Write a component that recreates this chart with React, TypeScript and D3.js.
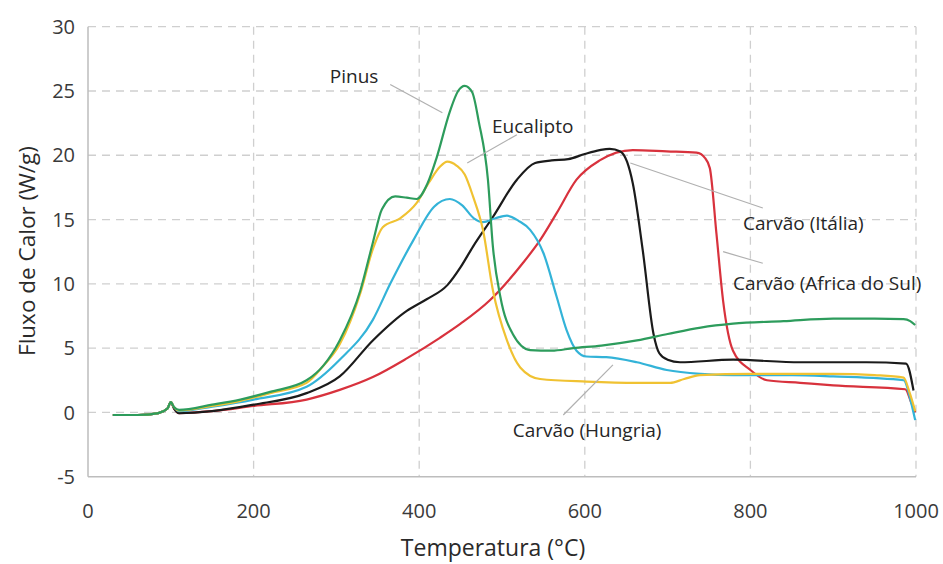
import { useEffect, useRef } from 'react';
import * as d3 from 'd3';

type Pt = [number, number];

const xTicks = [0, 200, 400, 600, 800, 1000];
const yTicks = [-5, 0, 5, 10, 15, 20, 25, 30];

// temperature (°C), heat flow (W/g)
const pinus: Pt[] = [
  [30, -0.2], [60, -0.2], [85, -0.05], [96, 0.3], [100, 0.8], [104, 0.4], [110, 0.2],
  [150, 0.6], [184, 1.0], [220, 1.6], [264, 2.5], [285, 3.7], [304, 5.6], [329, 9.5],
  [344, 13.2], [355, 15.8], [371, 16.8], [385, 16.7], [397, 16.6], [410, 17.8],
  [421, 19.8], [437, 23.4], [447, 25.0], [455, 25.4], [464, 24.9], [472, 22.6],
  [483, 18.1], [489, 12.9], [498, 9.0], [513, 6.1], [534, 4.85], [560, 4.8],
  [586, 5.0], [620, 5.2], [663, 5.6], [700, 6.1], [740, 6.6], [779, 6.9], [840, 7.1],
  [900, 7.3], [950, 7.3], [985, 7.25], [993, 7.1], [999, 6.8],
];

const eucalipto: Pt[] = [
  [30, -0.2], [60, -0.2], [85, -0.05], [96, 0.3], [100, 0.8], [104, 0.4], [110, 0.15],
  [150, 0.5], [184, 0.9], [220, 1.5], [264, 2.3], [284, 3.6], [304, 5.3], [329, 9.3],
  [344, 12.7], [356, 14.4], [377, 15.1], [397, 16.3], [412, 17.9], [425, 19.1],
  [434, 19.5], [445, 19.2], [455, 18.5], [465, 16.8], [477, 14.2], [489, 9.5],
  [506, 5.6], [522, 3.5], [546, 2.6], [602, 2.4], [663, 2.3], [703, 2.3], [720, 2.6],
  [739, 2.9], [800, 3.0], [900, 3.0], [950, 2.9], [985, 2.7], [992, 1.6], [999, 0.1],
];

const hungria: Pt[] = [
  [30, -0.2], [60, -0.2], [85, -0.05], [96, 0.3], [100, 0.8], [104, 0.4], [110, 0.1],
  [150, 0.45], [200, 1.0], [264, 2.0], [304, 4.1], [344, 7.2], [365, 10.0],
  [393, 13.4], [418, 16.0], [437, 16.6], [452, 16.1], [466, 15.1], [477, 14.8],
  [492, 15.1], [506, 15.3], [520, 14.9], [534, 14.2], [550, 12.4], [566, 9.0],
  [578, 6.4], [590, 4.8], [602, 4.35], [626, 4.3], [663, 3.9], [699, 3.3], [740, 3.0],
  [779, 2.9], [850, 2.9], [900, 2.8], [985, 2.5], [994, 0.8], [999, -0.6],
];

const italia: Pt[] = [
  [30, -0.2], [60, -0.2], [85, -0.05], [96, 0.3], [100, 0.8], [104, 0.3], [110, -0.05],
  [150, 0.1], [200, 0.6], [264, 1.5], [304, 2.8], [344, 5.6], [385, 7.9], [409, 8.8],
  [434, 9.9], [450, 11.3], [465, 12.9], [489, 15.2], [518, 18.1], [540, 19.4],
  [560, 19.6], [580, 19.7], [600, 20.1], [618, 20.4], [630, 20.5], [643, 20.3],
  [651, 19.5], [658, 17.8], [670, 12.6], [683, 6.1], [690, 4.6], [700, 4.1],
  [715, 3.9], [779, 4.1], [860, 3.9], [940, 3.9], [988, 3.8], [997, 1.7],
];

const africa: Pt[] = [
  [30, -0.2], [60, -0.2], [85, -0.05], [96, 0.3], [100, 0.8], [104, 0.3], [110, -0.05],
  [150, 0.1], [200, 0.5], [264, 1.0], [304, 1.75], [344, 2.75], [385, 4.2], [425, 5.8],
  [450, 6.9], [485, 8.7], [525, 11.6], [546, 13.4], [566, 15.5], [590, 18.1],
  [618, 19.6], [658, 20.4], [699, 20.3], [735, 20.2], [745, 19.8], [751, 19.0],
  [759, 13.9], [767, 8.7], [779, 4.8], [800, 3.3], [820, 2.5], [860, 2.3], [900, 2.1],
  [987, 1.8], [994, 0.8], [999, 0.0],
];

const seriesList = [
  { name: 'Carvão (Africa do Sul)', color: '#d8323d', data: africa },
  { name: 'Carvão (Itália)', color: '#1b1b1b', data: italia },
  { name: 'Carvão (Hungria)', color: '#33b3d8', data: hungria },
  { name: 'Eucalipto', color: '#f0c232', data: eucalipto },
  { name: 'Pinus', color: '#2d9c5c', data: pinus },
];

// label anchor and leader endpoints, in data units
const annotations = [
  { text: 'Pinus', at: [292, 25.6], from: [365, 25.5], to: [428, 23.3] },
  { text: 'Eucalipto', at: [488, 21.7], from: [518, 21.6], to: [458, 19.4] },
  { text: 'Carvão (Itália)', at: [791, 14.2], from: [655, 19.4], to: [815, 15.9] },
  { text: 'Carvão (Africa do Sul)', at: [779, 9.5], from: [767, 12.5], to: [815, 11.6] },
  { text: 'Carvão (Hungria)', at: [513, -1.9], from: [574, -0.2], to: [634, 3.7] },
];

const W = 943;
const H = 564;
const margin = { top: 26.7, right: 27, bottom: 87.3, left: 88 };
const font = '"Open Sans", sans-serif';

export default function App() {
  const ref = useRef<SVGSVGElement | null>(null);

  useEffect(() => {
    if (!ref.current) return;
    const root = d3.select(ref.current);
    root.selectAll('*').remove();

    const iw = W - margin.left - margin.right;
    const ih = H - margin.top - margin.bottom;

    const x = d3.scaleLinear().domain([0, 1000]).range([0, iw]);
    const y = d3.scaleLinear().domain([-5, 30]).range([ih, 0]);

    const g = root.append('g').attr('transform', `translate(${margin.left},${margin.top})`);

    // grid
    g.append('g')
      .selectAll('line')
      .data(yTicks.filter((t) => t > -5))
      .join('line')
      .attr('x1', 0)
      .attr('x2', iw)
      .attr('y1', (d) => y(d))
      .attr('y2', (d) => y(d))
      .attr('stroke', '#cfcfcf')
      .attr('stroke-width', 1.3)
      .attr('stroke-dasharray', '8,6');

    g.append('g')
      .selectAll('line')
      .data(xTicks.filter((t) => t > 0))
      .join('line')
      .attr('x1', (d) => x(d))
      .attr('x2', (d) => x(d))
      .attr('y1', 0)
      .attr('y2', ih)
      .attr('stroke', '#cfcfcf')
      .attr('stroke-width', 1.3)
      .attr('stroke-dasharray', '8,6');

    // axis lines
    g.append('line')
      .attr('x1', 0).attr('x2', 0).attr('y1', 0).attr('y2', ih)
      .attr('stroke', '#bdbdbd').attr('stroke-width', 1.5);
    g.append('line')
      .attr('x1', 0).attr('x2', iw).attr('y1', ih).attr('y2', ih)
      .attr('stroke', '#bdbdbd').attr('stroke-width', 1.5);

    // tick labels
    g.append('g')
      .selectAll('text')
      .data(yTicks)
      .join('text')
      .attr('x', -13)
      .attr('y', (d) => y(d))
      .attr('dy', '0.36em')
      .attr('text-anchor', 'end')
      .attr('font-family', font)
      .attr('font-size', 20)
      .attr('fill', '#3a3a3a')
      .text((d) => String(d));

    g.append('g')
      .selectAll('text')
      .data(xTicks)
      .join('text')
      .attr('x', (d) => x(d))
      .attr('y', ih + 41.5)
      .attr('text-anchor', 'middle')
      .attr('font-family', font)
      .attr('font-size', 20)
      .attr('fill', '#3a3a3a')
      .text((d) => String(d));

    // axis titles
    root.append('text')
      .attr('x', 493)
      .attr('y', 556)
      .attr('text-anchor', 'middle')
      .attr('font-family', font)
      .attr('font-size', 23)
      .attr('fill', '#2a2a2a')
      .text('Temperatura (°C)');

    root.append('text')
      .attr('transform', `translate(35,251) rotate(-90)`)
      .attr('text-anchor', 'middle')
      .attr('font-family', font)
      .attr('font-size', 22.5)
      .attr('fill', '#2a2a2a')
      .text('Fluxo de Calor (W/g)');

    // series
    const line = d3
      .line<Pt>()
      .x((d) => x(d[0]))
      .y((d) => y(d[1]))
      .curve(d3.curveMonotoneX);

    g.append('g')
      .selectAll('path')
      .data(seriesList)
      .join('path')
      .attr('d', (s) => line(s.data))
      .attr('fill', 'none')
      .attr('stroke', (s) => s.color)
      .attr('stroke-width', 2.2)
      .attr('stroke-linejoin', 'round');

    // annotations
    const ann = g.append('g');
    ann.selectAll('line')
      .data(annotations)
      .join('line')
      .attr('x1', (a) => x(a.from[0]))
      .attr('y1', (a) => y(a.from[1]))
      .attr('x2', (a) => x(a.to[0]))
      .attr('y2', (a) => y(a.to[1]))
      .attr('stroke', '#b0b0b0')
      .attr('stroke-width', 1.2);

    ann.selectAll('text')
      .data(annotations)
      .join('text')
      .attr('x', (a) => x(a.at[0]))
      .attr('y', (a) => y(a.at[1]))
      .attr('font-family', font)
      .attr('font-size', 19)
      .attr('fill', '#262626')
      .text((a) => a.text);
  }, []);

  return (
    <svg
      ref={ref}
      width={W}
      height={H}
      style={{ position: 'absolute', left: 0, top: 0, background: '#fff' }}
    />
  );
}
